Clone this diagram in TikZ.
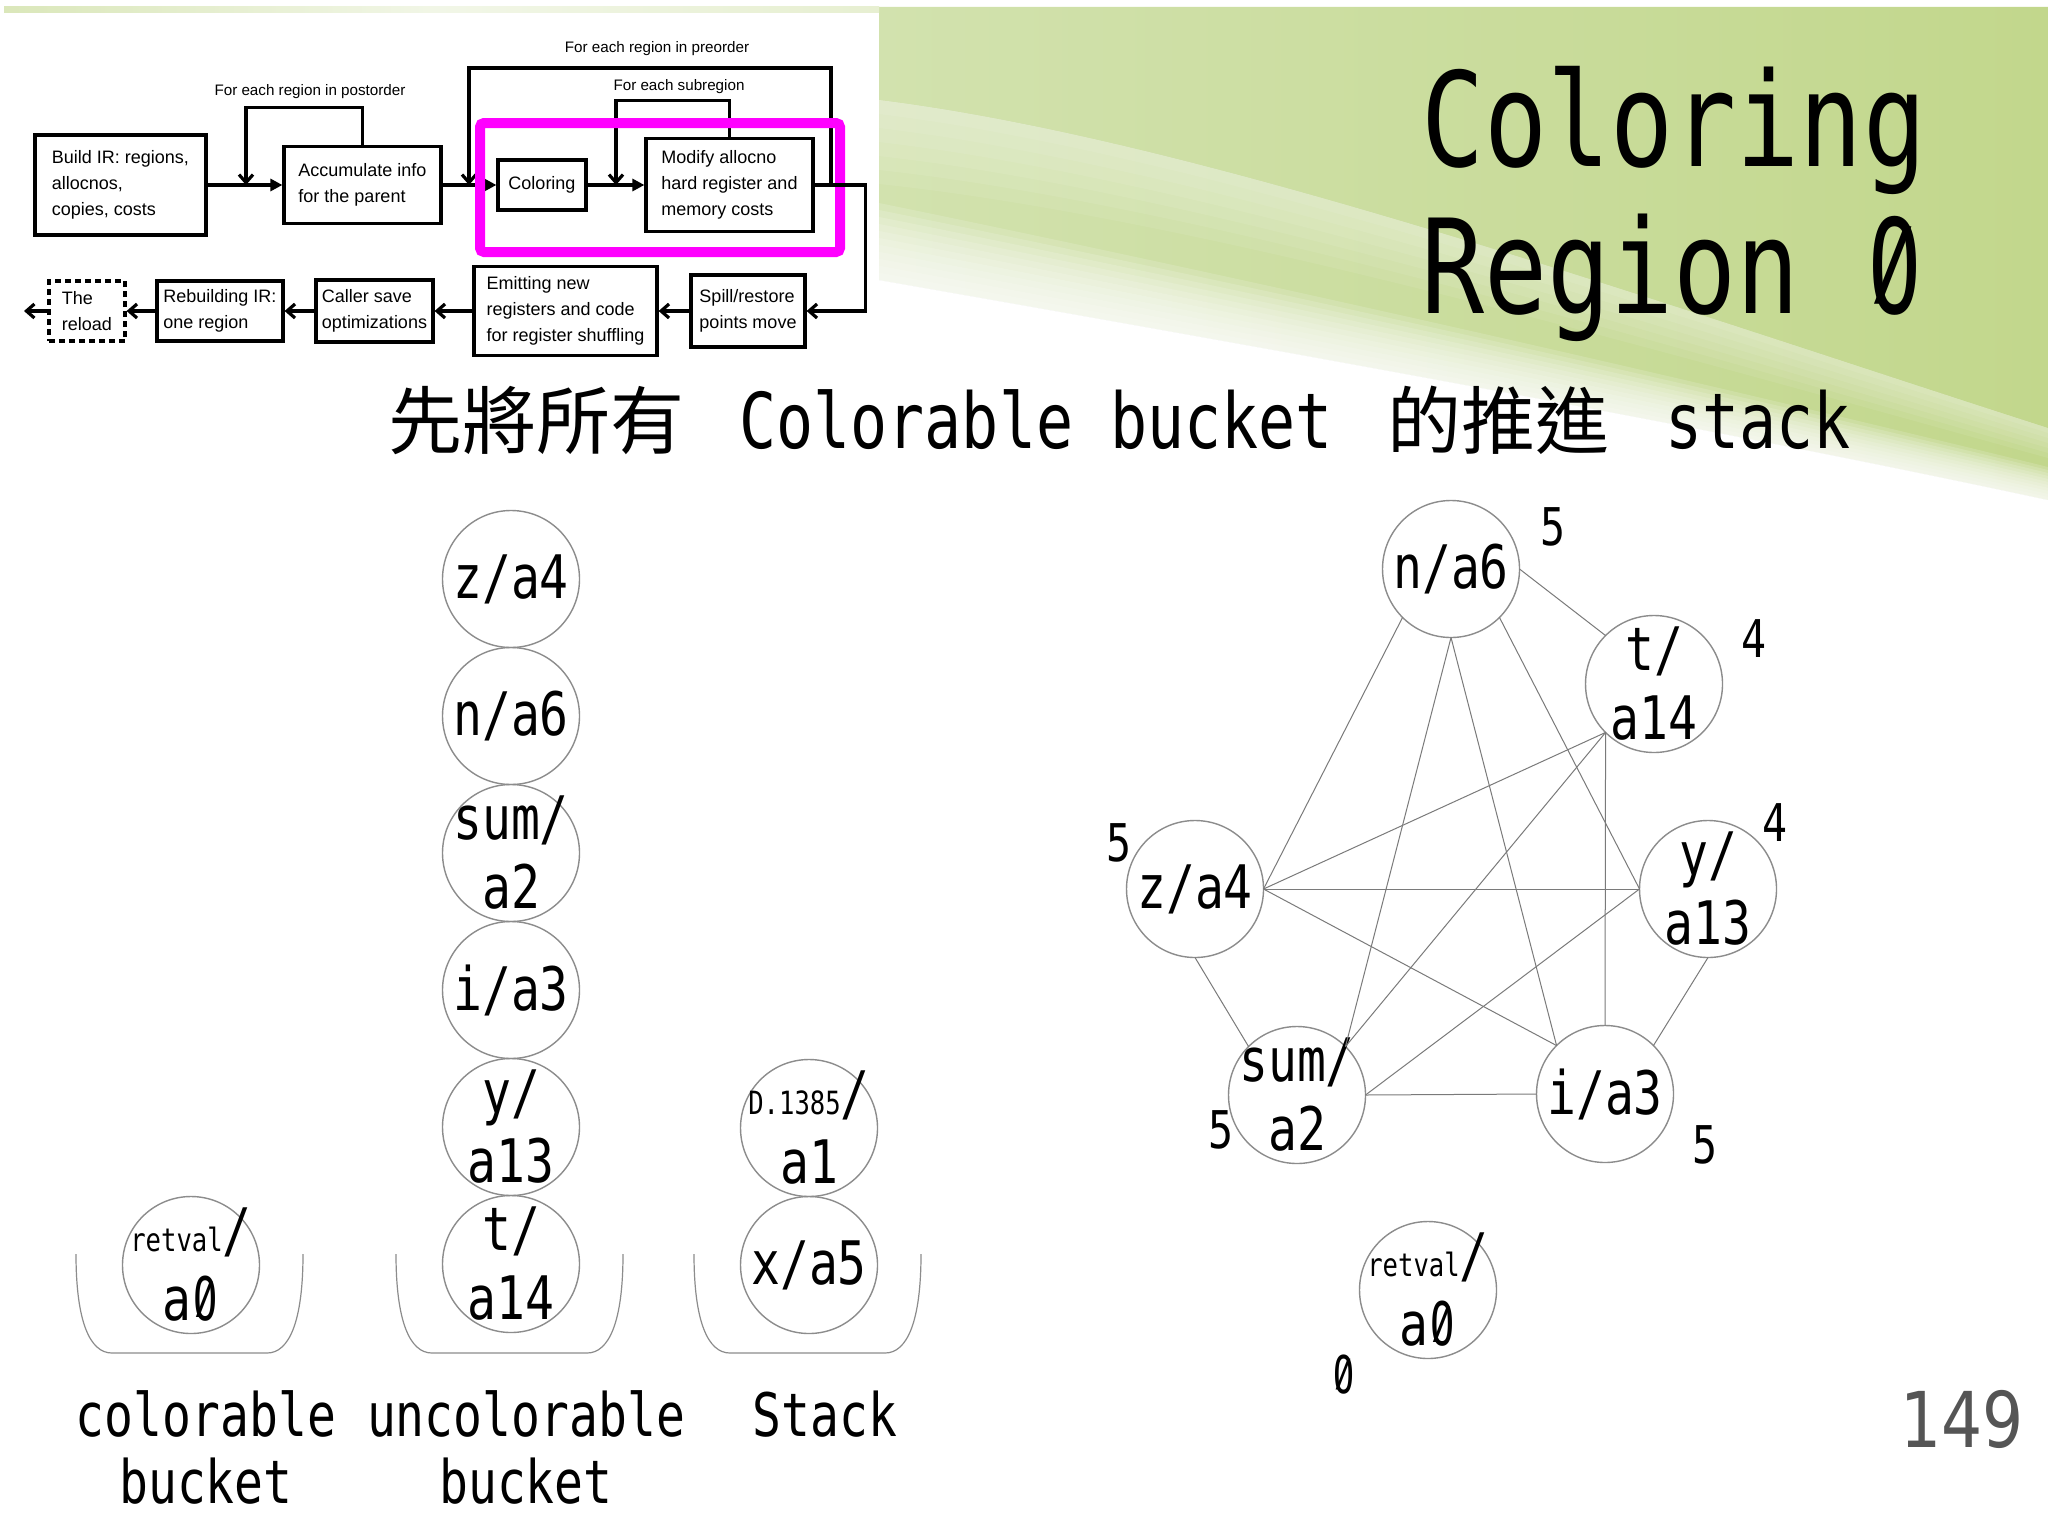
\documentclass[tikz,border=0pt]{standalone}
\usepackage{fontspec}
\usepackage{graphicx}
\setmainfont{DejaVu Sans}
\newfontfamily\monofont[FakeStretch=0.8]{DejaVu Sans Mono}
\newfontfamily\pagefont[FakeStretch=0.84]{DejaVu Sans}
\newfontfamily\flowfont{Liberation Sans}
\newfontfamily\cjk{Noto Sans CJK TC}
\usetikzlibrary{positioning, arrows.meta}
\definecolor{slidegreen}{HTML}{C2D78C}
\definecolor{palegreen}{HTML}{D2E2AE}
\definecolor{hilite}{HTML}{FF00FF}
\definecolor{ringgray}{HTML}{8C8C8C}
\definecolor{edgegray}{HTML}{7A7A7A}
\definecolor{pagegray}{HTML}{555555}
\tikzset{
    flowbox/.style={draw, line width=1.6pt, align=left, inner sep=2pt, font=\flowfont\fontsize{9}{13}\selectfont},
    flowarrow/.style={-{Triangle[length=6pt,width=6pt]}, line width=1.6pt},
    backarrow/.style={-{Straight Barb[length=4pt,width=7pt]}, line width=1.6pt},
    looplabel/.style={inner sep=0pt, font=\flowfont\fontsize{7.6}{9}\selectfont},
    regtext/.style={align=center, inner sep=0pt, font=\monofont\fontsize{30}{34.5}\selectfont},
    regnode/.style={circle, draw=ringgray, line width=0.7pt, minimum size=68.5pt, inner sep=0pt, outer sep=0pt, label={[regtext]center:#1}},
    degree/.style={inner sep=0pt, font=\monofont\fontsize{26}{30}\selectfont},
    conflict/.style={draw=edgegray, line width=0.5pt},
    bucketline/.style={draw=ringgray, line width=0.6pt},
    bucketlabel/.style={align=center, inner sep=0pt, font=\monofont\fontsize{30}{33.5}\selectfont}
}
\newcommand{\smalltext}[1]{{\fontsize{16}{16}\selectfont #1}}
% zero with a slash through it
\newcommand{\slzero}{\ooalign{\phantom{0}\cr\hidewidth\scalebox{0.84}[1]{O}\hidewidth\cr\hidewidth\raisebox{0.13em}{\scalebox{0.75}[0.72]{/}}\hidewidth\cr}}

\begin{document}
\begin{tikzpicture}[x=0.5pt, y=-0.5pt]
    \useasboundingbox (0,0) rectangle (2048,1536);
    \fill[white] (0,0) rectangle (2048,1536);
    % slide background
    \shade[left color=palegreen, right color=slidegreen] (879,7) -- (2048,7) -- (2048,500) .. controls (1700,425) and (1250,345) .. (879,280) -- cycle;
    \foreach \k in {1,...,6}
        \fill[white, opacity=0.08] (879,100) .. controls (1200,140) and (1650,300) .. (2048,428) -- ({2048},{428+5*\k}) .. controls ({1650},{300+8*\k}) and ({1200},{140+13*\k}) .. ({879},{100+14*\k}) -- cycle;
    \foreach \k in {0,...,11}
        \fill[white, opacity=0.15] ({879},{280-7*\k}) .. controls ({1250},{345-6*\k}) and ({1700},{425-4*\k}) .. ({2048},{500-3*\k}) -- (2048,560) -- (879,560) -- cycle;
    \shade[left color=slidegreen!60, right color=slidegreen!40, middle color=palegreen!30] (4,7) rectangle (879,13);

    % flow chart
    \node[flowbox, minimum width=85.5pt, minimum height=50pt] (build) at (120.5,185) {Build IR: regions,\\allocnos,\\copies, costs};
    \node[flowbox, minimum width=78.5pt, minimum height=38.5pt] (accum) at (362.5,185) {Accumulate info\\for the parent};
    \node[flowbox, minimum width=44pt, minimum height=25pt] (color) at (542,185) {Coloring};
    \node[flowbox, minimum width=83.5pt, minimum height=46.5pt] (modify) at (729.5,185) {Modify allocno\\hard register and\\memory costs};
    \node[flowbox, minimum width=57pt, minimum height=36pt] (spill) at (748,311) {Spill/restore\\points move};
    \node[flowbox, minimum width=91.5pt, minimum height=44.5pt] (emit) at (565.5,311) {Emitting new\\registers and code\\for register shuffling};
    \node[flowbox, minimum width=58.5pt, minimum height=31pt] (caller) at (374.5,311) {Caller save\\optimizations};
    \node[flowbox, minimum width=63pt, minimum height=30pt] (rebuild) at (220,311) {Rebuilding IR:\\one region};
    \node[flowbox, dash pattern=on 3pt off 2pt, minimum width=38pt, minimum height=30pt] (reload) at (87,311) {The\\reload};
    \node[looplabel] (postlbl) at (310,92) {For each region in postorder};
    \node[looplabel] (prelbl) at (657,49) {For each region in preorder};
    \node[looplabel] (sublbl) at (679,87) {For each subregion};
    \coordinate (postin) at (246,185);
    \coordinate (prein) at (469,185);
    \coordinate (preout) at (831,185);
    \coordinate (subin) at (616,185);
    \coordinate (exitpt) at (24,311);

    \draw[flowarrow] (build) -- (accum);
    \draw[flowarrow] (accum) -- (color);
    \draw[flowarrow] (color) -- (modify);
    \draw[backarrow] (accum.north) -- ++(0,-37) -| (postin);
    \draw[backarrow] (preout) -- ++(0,-117) -| (prein);
    \draw[backarrow] (modify.north) -- ++(0,-36) -| (subin);
    \draw[hilite, line width=5pt, rounded corners=2pt] (480,123) rectangle (840,252);
    \draw[backarrow] (modify.east) -- ++(51,0) |- (spill.east);
    \draw[backarrow] (spill) -- (emit);
    \draw[backarrow] (emit) -- (caller);
    \draw[backarrow] (caller) -- (rebuild);
    \draw[backarrow] (rebuild) -- (reload);
    \draw[backarrow] (reload) -- (exitpt);

    % title
    \node[anchor=base west, inner sep=0pt, font=\monofont\fontsize{65.5}{70}\selectfont] (title1) at (1421,166) {Coloring};
    \node[anchor=base west, inner sep=0pt, font=\monofont\fontsize{65.5}{70}\selectfont] (title2) at (1421,313) {Region \slzero};
    \node[anchor=base west, inner sep=0pt, font=\monofont\fontsize{38.5}{40}\selectfont] (subtitle) at (388,448) {{\cjk\fontsize{37}{40}\selectfont 先將所有}\kern9pt{} Colorable bucket\kern9pt{} {\cjk\fontsize{37}{40}\selectfont 的推進}\kern9pt{} stack};

    % buckets
    \node[regnode={z/a4}] (u1) at (511,579) {};
    \node[regnode={n/a6}, below=0pt of u1] (u2) {};
    \node[regnode={sum/\\a2}, below=0pt of u2] (u3) {};
    \node[regnode={i/a3}, below=0pt of u3] (u4) {};
    \node[regnode={y/\\a13}, below=0pt of u4] (u5) {};
    \node[regnode={t/\\a14}, below=0pt of u5] (u6) {};
    \node[regnode={\smalltext{retval}/\\a\slzero}] (c1) at (191,1265) {};
    \node[regnode={\smalltext{D.1385}/\\a1}] (s1) at (809,1128) {};
    \node[regnode={x/a5}, below=0pt of s1] (s2) {};
    \foreach \bx in {76,396,694}
        \draw[bucketline] (\bx,1254) .. controls (\bx,1322) and ({\bx+14},1353) .. ({\bx+36},1353) -- ({\bx+191},1353) .. controls ({\bx+213},1353) and ({\bx+227},1322) .. ({\bx+227},1254);
    \node[bucketlabel] (clbl) at (206,1447) {colorable\\bucket};
    \node[bucketlabel] (ulbl) at (526,1447) {uncolorable\\bucket};
    \node[bucketlabel] (slbl) at (825,1414) {Stack};

    % interference graph
    \node[regnode={n/a6}] (n6) at (1451,569) {};
    \node[regnode={t/\\a14}] (t14) at (1654,684) {};
    \node[regnode={y/\\a13}] (y13) at (1708,889) {};
    \node[regnode={z/a4}] (z4) at (1195,889) {};
    \node[regnode={sum/\\a2}] (sum2) at (1297,1095) {};
    \node[regnode={i/a3}] (i3) at (1605,1094) {};
    \node[regnode={\smalltext{retval}/\\a\slzero}] (ret0) at (1428,1290) {};
    \draw[conflict] (n6.east) -- (t14.north west);
    \draw[conflict] (n6.south west) -- (z4.east);
    \draw[conflict] (n6.south) -- (sum2.north east);
    \draw[conflict] (n6.south) -- (i3.north west);
    \draw[conflict] (n6.south east) -- (y13.west);
    \draw[conflict] (t14.south west) -- (z4.east);
    \draw[conflict] (t14.south west) -- (sum2.north east);
    \draw[conflict] (t14.south west) -- (i3.north);
    \draw[conflict] (z4.east) -- (y13.west);
    \draw[conflict] (z4.east) -- (i3.north west);
    \draw[conflict] (z4.south) -- (sum2.north west);
    \draw[conflict] (y13.west) -- (sum2.east);
    \draw[conflict] (y13.south) -- (i3.north east);
    \draw[conflict] (sum2.east) -- (i3.west);
    \node[degree] (dn6) at (1553,527) {5};
    \node[degree] (dt14) at (1754,639) {4};
    \node[degree] (dy13) at (1775,823) {4};
    \node[degree] (dz4) at (1119,843) {5};
    \node[degree] (dsum2) at (1221,1130) {5};
    \node[degree] (di3) at (1705,1145) {5};
    \node[degree] (dret0) at (1344,1374) {\slzero};

    \node[anchor=base east, inner sep=0pt, text=pagegray, font=\pagefont\fontsize{38.5}{40}\selectfont] (pagenum) at (2024,1447) {149};
\end{tikzpicture}
\end{document}
